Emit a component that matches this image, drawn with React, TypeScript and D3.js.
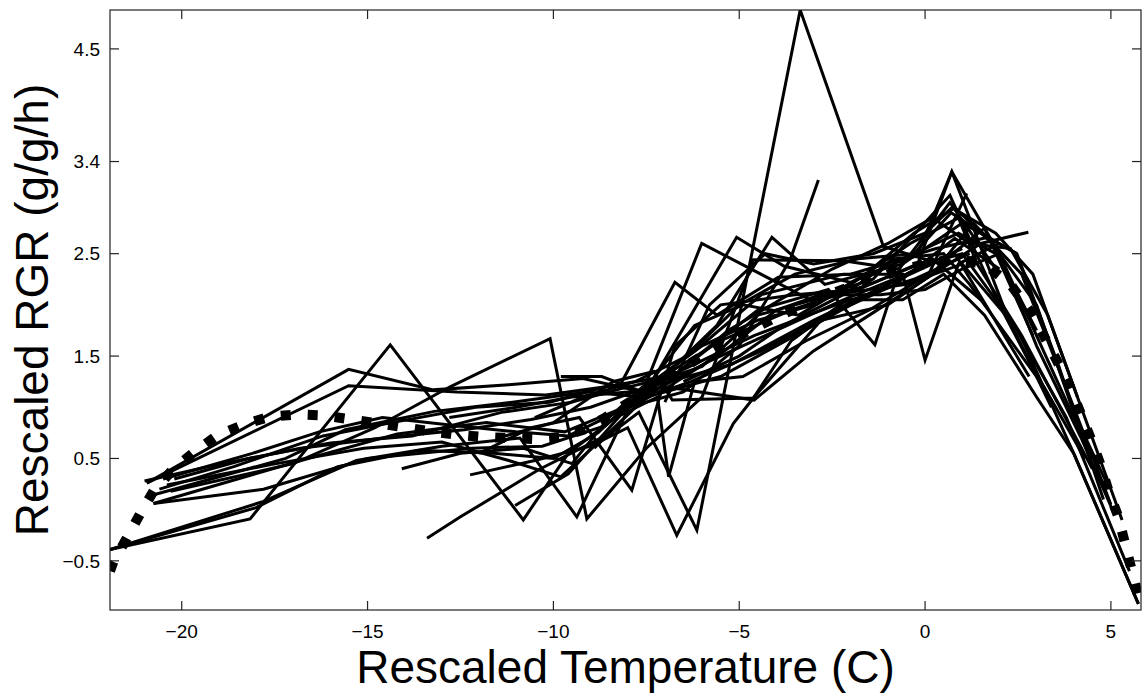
import React from "react";
import * as d3 from "d3";

const W = 1146;
const H = 700;
const M = { left: 110, right: 1141, top: 10, bottom: 610 };

const xDomain: [number, number] = [-21.93, 5.81];
const yDomain: [number, number] = [-0.98, 4.88];
const xTicks = [-20, -15, -10, -5, 0, 5];
const yTicks = [-0.5, 0.5, 1.5, 2.5, 3.4, 4.5];
const xTitle = "Rescaled Temperature (C)";
const yTitle = "Rescaled RGR (g/g/h)";

type P = [number, number];

const s01: P[] = [[-21.93,-0.39],[-18.16,-0.09],[-14.39,1.61],[-10.81,-0.10],[-9.6,0.55],[-7.6,1.1],[-5.8,1.45],[-4.0,1.75],[-2.2,2.05],[-0.5,2.3],[1.0,2.55]];
const s02: P[] = [[-21.93,-0.39],[-17.8,0.08],[-15.3,0.48],[-13.0,0.62],[-10.9,0.7],[-9.37,-0.07],[-7.9,1.05],[-6.3,1.25],[-4.4,1.55],[-2.6,1.9],[-0.8,2.2],[0.8,2.65],[2.0,2.35]];
const s03: P[] = [[-21.93,-0.39],[-18.0,0.02],[-15.8,0.42],[-13.6,0.58],[-11.6,0.55],[-10.0,0.5],[-8.8,0.75],[-7.5,1.2],[-5.5,1.65],[-3.6,1.95],[-1.5,2.2],[0.2,2.45],[1.5,2.05]];
const s04: P[] = [[-20.94,0.26],[-15.51,1.37],[-13.23,1.17],[-11.2,1.22],[-9.2,1.28],[-7.6,1.15],[-6.01,2.60],[-3.09,2.05],[-1.4,2.25],[0.67,3.07],[2.0,2.0],[3.3,1.1]];
const s05: P[] = [[-20.94,0.26],[-15.51,1.21],[-12.6,1.15],[-10.2,1.12],[-8.2,1.22],[-6.73,2.22],[-5.6,1.9],[-3.95,2.27],[-2.0,2.3],[0.3,2.55],[1.71,2.66],[3.0,1.75]];
const s06: P[] = [[-20.76,0.06],[-17.8,0.2],[-15.0,0.5],[-12.2,0.6],[-10.3,0.62],[-8.6,0.82],[-7.4,1.2],[-5.2,1.42],[-3.0,1.85],[-1.0,2.2],[0.8,2.5],[2.8,1.3]];
const s07: P[] = [[-20.76,0.06],[-16.6,0.5],[-14.2,0.74],[-11.8,0.85],[-9.7,0.76],[-8.1,1.0],[-6.9,1.3],[-4.6,1.7],[-2.4,2.0],[-0.3,2.25],[1.2,2.5]];
const s08: P[] = [[-20.7,0.15],[-17.2,0.5],[-15.6,0.78],[-13.2,0.96],[-11.1,1.05],[-9.1,1.15],[-7.6,1.1],[-5.6,1.8],[-4.12,2.66],[-2.7,2.2],[-0.6,2.4],[1.0,2.8],[2.47,2.50]];
const s09: P[] = [[-20.6,0.2],[-18.6,0.42],[-16.2,0.72],[-14.2,0.86],[-12.1,1.0],[-10.1,1.05],[-8.6,1.2],[-7.3,1.28],[-5.07,2.66],[-3.8,2.38],[-2.0,2.22],[-0.2,2.5],[0.72,3.30],[2.2,1.9],[3.4,1.0]];
const s10: P[] = [[-20.5,0.3],[-18.1,0.55],[-16.3,0.76],[-14.6,0.9],[-12.6,0.82],[-11.0,0.76],[-9.6,0.72],[-8.0,1.0],[-6.5,1.15],[-5.0,1.6],[-3.63,2.44],[-2.87,3.22]];
const s11: P[] = [[-20.4,0.24],[-17.6,0.44],[-15.1,0.6],[-13.0,0.66],[-11.2,0.48],[-9.8,0.32],[-8.9,0.62],[-7.7,0.95],[-6.14,-0.20],[-3.36,4.88],[-1.12,2.57],[0.4,2.4],[1.6,2.75],[2.9,1.7]];
const s12: P[] = [[-20.3,0.18],[-17.0,0.45],[-14.8,0.8],[-12.78,1.20],[-10.09,1.67],[-9.10,-0.09],[-7.5,0.6],[-6.0,1.1],[-4.62,2.44],[-2.2,2.43],[-0.7,2.35],[0.67,3.0],[2.0,2.3]];
const s13: P[] = [[-20.2,0.3],[-18.2,0.5],[-16.0,0.65],[-13.8,0.72],[-11.4,0.95],[-9.5,1.05],[-8.2,1.18],[-6.8,1.3],[-4.5,1.95],[-2.6,2.15],[-1.35,1.61],[-0.6,2.45],[0.9,2.7],[1.9,2.5]];
const s14: P[] = [[-21.0,0.28],[-18.9,0.45],[-16.8,0.6],[-14.6,0.7],[-12.4,0.78],[-10.6,0.88],[-9.0,1.0],[-7.6,1.18],[-6.2,1.55],[-4.4,2.1],[-2.2,2.3],[-0.6,2.3],[0.0,1.46],[0.9,2.4],[2.0,2.6]];
const s15: P[] = [[-13.4,-0.28],[-12.5,-0.07],[-10.4,0.39],[-8.6,0.72],[-7.5,1.1],[-5.5,1.3],[-4.0,1.6],[-2.0,2.0],[0.0,2.4],[1.0,2.5],[2.5,1.75],[4.0,0.55],[5.74,-0.92]];
const s16: P[] = [[-14.08,0.40],[-12.5,0.55],[-10.8,0.6],[-9.5,0.45],[-8.5,0.9],[-7.6,1.2],[-6.0,1.4],[-4.5,1.9],[-2.5,2.1],[-0.5,2.2],[1.0,2.4],[2.4,1.8],[3.8,0.9],[5.5,-0.6]];
const s17: P[] = [[-12.24,0.34],[-10.5,0.48],[-9.0,0.62],[-8.0,0.8],[-6.68,-0.25],[-5.16,0.84],[-4.62,1.09],[-2.8,1.85],[-1.0,2.0],[0.2,2.3],[1.3,2.8],[2.6,2.3],[4.0,1.0],[5.0,0.05]];
const s18: P[] = [[-11.03,0.04],[-9.6,0.35],[-8.2,0.92],[-7.2,1.1],[-6.9,0.32],[-6.2,1.25],[-4.9,1.3],[-3.2,1.65],[-1.5,1.95],[0.1,2.3],[1.12,3.09]];
const s19: P[] = [[-12.0,0.55],[-10.6,0.8],[-9.3,0.9],[-7.89,0.19],[-6.73,1.6],[-5.5,2.0],[-3.5,2.1],[-1.8,2.15],[-0.2,2.4],[0.72,3.30],[2.0,2.5],[3.5,1.3],[4.5,0.5]];
const s20: P[] = [[-12.8,0.9],[-11.0,1.0],[-9.5,1.1],[-8.0,1.15],[-7.0,1.2],[-4.6,1.07],[-3.0,1.55],[-1.5,1.9],[0.0,2.25],[1.5,2.6],[2.78,2.71]];
const s21: P[] = [[-11.5,0.7],[-10.0,0.85],[-8.4,1.25],[-7.3,1.35],[-6.8,1.07],[-4.62,1.09],[-3.6,1.65],[-2.1,2.05],[-0.6,2.05],[0.5,2.3],[1.6,1.9],[3.0,1.1],[4.0,0.55],[5.74,-0.92]];
const s22: P[] = [[-10.5,0.9],[-9.2,1.1],[-7.8,1.25],[-6.4,1.5],[-5.0,2.0],[-3.5,2.3],[-1.8,2.45],[-0.3,2.5],[0.7,2.9],[1.71,2.66],[2.47,2.50],[3.6,1.4],[4.8,0.1]];
const s23: P[] = [[-9.8,1.3],[-8.7,1.3],[-7.6,1.15],[-6.2,1.8],[-4.9,2.0],[-3.4,1.9],[-2.0,2.2],[-0.4,2.6],[0.9,2.85],[1.4,2.4],[2.6,1.7],[3.7,0.95],[4.5,0.4]];
const s24: P[] = [[-8.9,0.6],[-7.8,1.0],[-6.6,1.35],[-5.3,1.75],[-3.9,2.05],[-2.5,2.35],[-1.0,2.6],[0.2,2.85],[1.2,2.6],[2.3,2.55],[3.3,1.9],[4.4,0.8],[5.3,-0.1]];
const s25: P[] = [[-7.5,1.2],[-6.0,1.6],[-4.5,1.85],[-3.0,2.0],[-1.6,2.3],[-0.3,2.7],[0.8,2.95],[1.8,2.6],[3.0,2.0],[4.0,0.95],[4.9,0.25]];
const s26: P[] = [[-6.5,1.25],[-5.0,1.5],[-3.8,1.8],[-2.2,2.1],[-0.8,2.45],[0.5,2.5],[1.2,2.2],[2.2,1.7],[3.2,1.2],[4.3,0.5]];
const s27: P[] = [[-8.2,0.95],[-6.9,1.2],[-5.4,1.55],[-4.0,1.95],[-2.8,2.1],[-1.2,2.1],[0.0,2.15],[1.0,2.35],[2.0,2.5],[3.0,1.6],[4.2,0.7],[5.1,-0.05]];
const s28: P[] = [[-7.0,1.05],[-5.8,2.0],[-4.3,2.5],[-3.0,2.4],[-1.4,2.5],[0.0,2.7],[0.72,2.95],[1.9,2.7],[2.9,2.3],[4.1,1.1]];

const series: P[][] = [s01,s02,s03,s04,s05,s06,s07,s08,s09,s10,s11,s12,s13,s14,s15,s16,s17,s18,s19,s20,s21,s22,s23,s24,s25,s26,s27,s28];

const fitCurve: P[] = [[-21.93,-0.6],[-21.84,-0.51],[-21.48,-0.28],[-21.12,-0.04],[-20.76,0.18],[-20.27,0.38],[-19.64,0.57],[-19.06,0.72],[-18.34,0.83],[-17.62,0.91],[-16.9,0.93],[-16.19,0.92],[-15.42,0.88],[-14.66,0.84],[-13.94,0.8],[-13.23,0.76],[-12.56,0.73],[-11.9,0.71],[-11.2,0.7],[-10.5,0.69],[-9.8,0.71],[-9.2,0.78],[-8.6,0.9],[-8.0,1.04],[-7.4,1.18],[-6.8,1.32],[-6.0,1.5],[-5.0,1.7],[-4.0,1.88],[-3.0,2.04],[-2.0,2.18],[-1.0,2.3],[0.0,2.4],[0.8,2.45],[1.6,2.4],[2.3,2.2],[2.9,1.9],[3.54,1.46],[3.9,1.2],[4.17,0.955],[4.44,0.71],[4.71,0.45],[4.93,0.19],[5.2,-0.07],[5.38,-0.33],[5.56,-0.59],[5.74,-0.85],[5.81,-0.95]];

const fmt = (v: number) => (v < 0 ? "\u2212" + Math.abs(v) : String(v));

export default function App() {
  const x = d3.scaleLinear().domain(xDomain).range([M.left, M.right]);
  const y = d3.scaleLinear().domain(yDomain).range([M.bottom, M.top]);
  const line = d3.line<P>().x((d) => x(d[0])).y((d) => y(d[1]));
  const font = "'Liberation Sans', Arial, Helvetica, sans-serif";
  const tl = 9;
  return (
    <div style={{ position: "absolute", left: 0, top: 0, background: "#fff" }}>
      <svg width={W} height={H} viewBox={`0 0 ${W} ${H}`} style={{ display: "block" }}>
        <rect x={0} y={0} width={W} height={H} fill="#fff" />
        <defs>
          <clipPath id="plotclip">
            <rect x={M.left} y={M.top} width={M.right - M.left} height={M.bottom - M.top} />
          </clipPath>
        </defs>
        <g clipPath="url(#plotclip)">
          {series.map((s, i) => (
            <path key={i} d={line(s) || ""} fill="none" stroke="#000" strokeWidth={3} strokeLinejoin="miter" />
          ))}
          <path d={line(fitCurve) || ""} fill="none" stroke="#000" strokeWidth={10} strokeDasharray="10 17" />
        </g>
        <rect x={M.left} y={M.top} width={M.right - M.left} height={M.bottom - M.top} fill="none" stroke="#222" strokeWidth={1.2} />
        {xTicks.map((t) => (
          <g key={"x" + t}>
            <line x1={x(t)} x2={x(t)} y1={M.bottom} y2={M.bottom - tl} stroke="#222" strokeWidth={1.2} />
            <line x1={x(t)} x2={x(t)} y1={M.top} y2={M.top + tl} stroke="#222" strokeWidth={1.2} />
            <text x={x(t)} y={638} textAnchor="middle" fontFamily={font} fontSize={19} fill="#000">{fmt(t)}</text>
          </g>
        ))}
        {yTicks.map((t) => (
          <g key={"y" + t}>
            <line x1={M.left} x2={M.left + tl} y1={y(t)} y2={y(t)} stroke="#222" strokeWidth={1.2} />
            <line x1={M.right} x2={M.right - tl} y1={y(t)} y2={y(t)} stroke="#222" strokeWidth={1.2} />
            <text x={100} y={y(t)} dy="0.35em" textAnchor="end" fontFamily={font} fontSize={19} fill="#000">{fmt(t)}</text>
          </g>
        ))}
        <text x={(M.left + M.right) / 2} y={683} textAnchor="middle" fontFamily={font} fontSize={46} fill="#000">{xTitle}</text>
        <text transform={`translate(48, ${(M.top + M.bottom) / 2}) rotate(-90)`} textAnchor="middle" fontFamily={font} fontSize={46} fill="#000">{yTitle}</text>
      </svg>
    </div>
  );
}
